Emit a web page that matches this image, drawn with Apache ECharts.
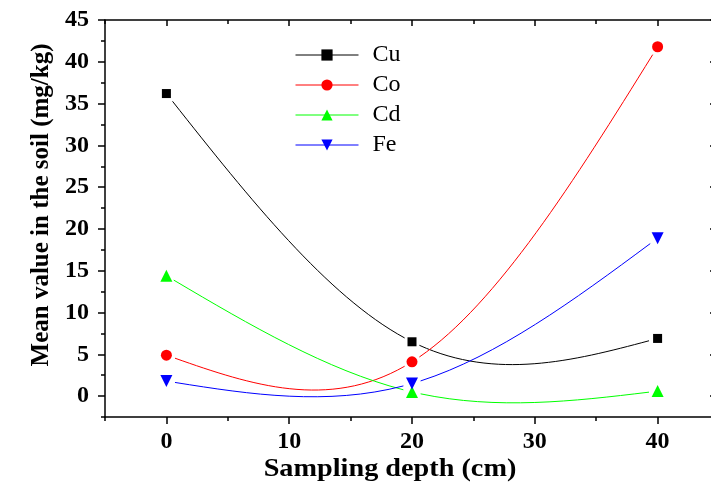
<!DOCTYPE html>
<html>
<head>
<meta charset="utf-8">
<script src="https://cdn.jsdelivr.net/npm/echarts@6/dist/echarts.min.js"></script>
<style>
  html, body { margin: 0; padding: 0; background: #fff; }
  #chart { width: 711px; height: 487px; }
</style>
</head>
<body>
<div id="chart"></div>
<script>
// Sampling depths (cm)
const depths = [0, 20, 40];

// Mean metal content in the soil (mg/kg) at each depth
const cuValues = [36.2, 6.5, 6.9];
const coValues = [4.9, 4.1, 41.8];
const cdValues = [14.4, 0.5, 0.6];
const feValues = [1.8, 1.5, 18.9];

// Axis ticks
const xMajorTicks = [0, 10, 20, 30, 40];
const xMinorTicks = [-5, 5, 15, 25, 35, 45];
const yMajorTicks = [0, 5, 10, 15, 20, 25, 30, 35, 40, 45];
const yMinorTicks = [-2.5, 2.5, 7.5, 12.5, 17.5, 22.5, 27.5, 32.5, 37.5, 42.5];

const serif = 'Liberation Serif';
const axisColor = '#000';
const markerGap = 8; // px left blank between a curve and its own markers

function pairs(values) {
  return depths.map((d, i) => [d, values[i]]);
}

// Natural cubic spline through the knots, returned as cubic Bezier
// segments (each segment is [p0, c1, c2, p1] in data units).
function naturalSplineSegments(xs, ys) {
  const n = xs.length;
  const h = [];
  for (let i = 0; i < n - 1; i++) h.push(xs[i + 1] - xs[i]);
  const M = new Array(n).fill(0);
  if (n > 2) {
    const a = [], b = [], c = [], d = [];
    for (let i = 1; i < n - 1; i++) {
      a.push(h[i - 1]);
      b.push(2 * (h[i - 1] + h[i]));
      c.push(h[i]);
      d.push(6 * ((ys[i + 1] - ys[i]) / h[i] - (ys[i] - ys[i - 1]) / h[i - 1]));
    }
    const m = b.length;
    for (let i = 1; i < m; i++) {
      const w = a[i] / b[i - 1];
      b[i] -= w * c[i - 1];
      d[i] -= w * d[i - 1];
    }
    const sol = new Array(m);
    sol[m - 1] = d[m - 1] / b[m - 1];
    for (let i = m - 2; i >= 0; i--) sol[i] = (d[i] - c[i] * sol[i + 1]) / b[i];
    for (let i = 0; i < m; i++) M[i + 1] = sol[i];
  }
  const segs = [];
  for (let i = 0; i < n - 1; i++) {
    const hi = h[i];
    const s = (ys[i + 1] - ys[i]) / hi;
    const dL = s - hi * (2 * M[i] + M[i + 1]) / 6;
    const dR = s + hi * (M[i] + 2 * M[i + 1]) / 6;
    segs.push([
      [xs[i], ys[i]],
      [xs[i] + hi / 3, ys[i] + dL * hi / 3],
      [xs[i + 1] - hi / 3, ys[i + 1] - dR * hi / 3],
      [xs[i + 1], ys[i + 1]]
    ]);
  }
  return segs;
}

// Point on a cubic Bezier
function bezierAt(p, t) {
  const u = 1 - t;
  const a = u * u * u, b = 3 * u * u * t, c = 3 * u * t * t, d = t * t * t;
  return [a * p[0][0] + b * p[1][0] + c * p[2][0] + d * p[3][0],
          a * p[0][1] + b * p[1][1] + c * p[2][1] + d * p[3][1]];
}

// De Casteljau split, keeping the part between t0 and t1
function bezierPart(p, t0, t1) {
  function splitLeft(q, t) {
    const lerp = (A, B) => [A[0] + (B[0] - A[0]) * t, A[1] + (B[1] - A[1]) * t];
    const p01 = lerp(q[0], q[1]), p12 = lerp(q[1], q[2]), p23 = lerp(q[2], q[3]);
    const p012 = lerp(p01, p12), p123 = lerp(p12, p23);
    const mid = lerp(p012, p123);
    return { left: [q[0], p01, p012, mid], right: [mid, p123, p23, q[3]] };
  }
  const left = splitLeft(p, t1).left;
  const tt = t1 > 0 ? t0 / t1 : 0;
  return splitLeft(left, tt).right;
}

// Parameter where the curve first leaves a circle of radius r around an end
function trimParam(p, r, fromEnd) {
  const anchor = fromEnd ? p[3] : p[0];
  const steps = 200;
  for (let k = 1; k <= steps; k++) {
    const t = fromEnd ? 1 - k / steps : k / steps;
    const q = bezierAt(p, t);
    if (Math.hypot(q[0] - anchor[0], q[1] - anchor[1]) >= r) return t;
  }
  return fromEnd ? 0 : 1;
}

function frameAxis(kind, position, ticks, len, inside, extra) {
  const range = kind === 'x' ? { min: -5, max: 45 } : { min: -2.5, max: 45 };
  return Object.assign({
    type: 'value',
    position: position,
    min: range.min,
    max: range.max,
    splitLine: { show: false },
    axisLine: { show: false, onZero: false, lineStyle: { color: axisColor, width: 1.5 } },
    axisTick: { show: true, inside: inside, length: len, customValues: ticks,
                lineStyle: { color: axisColor, width: 1.5 } },
    axisLabel: { show: false }
  }, extra || {});
}

const chart = echarts.init(document.getElementById('chart'), null, { renderer: 'canvas' });

const seriesDefs = [
  { name: 'Cu', values: cuValues, color: '#000000', symbol: 'rect', size: 9, rotate: 0 },
  { name: 'Co', values: coValues, color: '#ff0000', symbol: 'circle', size: 11, rotate: 0 },
  { name: 'Cd', values: cdValues, color: '#00ff00', symbol: 'triangle', size: 12, rotate: 0 },
  { name: 'Fe', values: feValues, color: '#0000ff', symbol: 'triangle', size: 12, rotate: 180 }
];

// Markers (and legend entries) for each metal
const markerSeries = seriesDefs.map(s => ({
  name: s.name,
  type: 'line',
  xAxisIndex: 0,
  yAxisIndex: 0,
  data: pairs(s.values),
  symbol: s.symbol,
  symbolSize: s.size,
  symbolRotate: s.rotate,
  showAllSymbol: true,
  color: s.color,
  itemStyle: { color: s.color },
  lineStyle: { color: s.color, width: 1, opacity: 0 },
  z: 4
}));

// Spline curve through each metal's points, drawn on the axis scales
const curveSeries = seriesDefs.map(s => ({
  name: s.name + ' spline',
  type: 'custom',
  xAxisIndex: 0,
  yAxisIndex: 0,
  silent: true,
  z: 3,
  data: pairs(s.values),
  renderItem: function (params, api) {
    if (params.dataIndex !== 0) return null;
    const segs = naturalSplineSegments(depths, s.values);
    let path = '';
    segs.forEach(seg => {
      const p = seg.map(pt => api.coord(pt));
      const t0 = trimParam(p, markerGap, false);
      const t1 = trimParam(p, markerGap, true);
      if (t1 <= t0) return;
      const q = bezierPart(p, t0, t1);
      path += ' M' + q[0][0] + ' ' + q[0][1] +
              ' C' + q[1][0] + ' ' + q[1][1] + ' ' + q[2][0] + ' ' + q[2][1] +
              ' ' + q[3][0] + ' ' + q[3][1];
    });
    return {
      type: 'path',
      shape: { pathData: path },
      style: { stroke: s.color, fill: null, lineWidth: 1 }
    };
  }
}));

chart.setOption({
  animation: false,
  backgroundColor: '#ffffff',
  grid: { left: 105, top: 20, width: 614, height: 397, containLabel: false, outerBoundsMode: 'none' },
  legend: {
    orient: 'vertical',
    left: 290,
    top: 38,
    itemWidth: 63,
    itemHeight: 14,
    itemGap: 6,
    lineStyle: { opacity: 1, width: 1 },
    textStyle: { fontFamily: serif, fontSize: 24, color: '#000', padding: [0, 0, 0, 9], lineHeight: 24 },
    data: seriesDefs.map(s => s.name)
  },
  xAxis: [
    frameAxis('x', 'bottom', xMajorTicks, 7, false, {
      axisLine: { show: true, onZero: false, lineStyle: { color: axisColor, width: 1.5 } },
      axisLabel: { show: true, customValues: xMajorTicks, margin: 13,
                   fontFamily: serif, fontWeight: 'bold', fontSize: 24, color: '#000' }
    }),
    frameAxis('x', 'bottom', xMinorTicks, 4, false),
    frameAxis('x', 'top', xMajorTicks, 6, true, {
      axisLine: { show: true, onZero: false, lineStyle: { color: axisColor, width: 1.5 } }
    }),
    frameAxis('x', 'top', xMinorTicks, 4, true)
  ],
  yAxis: [
    frameAxis('y', 'left', yMajorTicks, 7, false, {
      axisLine: { show: true, onZero: false, lineStyle: { color: axisColor, width: 1.5 } },
      axisLabel: { show: true, customValues: yMajorTicks, margin: 16,
                   fontFamily: serif, fontWeight: 'bold', fontSize: 24, color: '#000' }
    }),
    frameAxis('y', 'left', yMinorTicks, 4, false),
    frameAxis('y', 'right', yMajorTicks, 9, true, {
      axisLine: { show: true, onZero: false, lineStyle: { color: axisColor, width: 1.5 } }
    }),
    frameAxis('y', 'right', yMinorTicks, 5, true)
  ],
  graphic: [
    {
      type: 'text',
      x: 41.5,
      y: 205,
      rotation: Math.PI / 2,
      style: {
        text: 'Mean value in the soil (mg/kg)',
        fontFamily: serif, fontWeight: 'bold', fontSize: 25, fill: '#000',
        align: 'center', verticalAlign: 'middle'
      }
    },
    {
      type: 'text',
      x: 390,
      y: 470,
      scaleX: 1.13,
      style: {
        text: 'Sampling depth (cm)',
        fontFamily: serif, fontWeight: 'bold', fontSize: 25, fill: '#000',
        align: 'center', verticalAlign: 'middle'
      }
    }
  ],
  series: markerSeries.concat(curveSeries)
});
</script>
</body>
</html>
